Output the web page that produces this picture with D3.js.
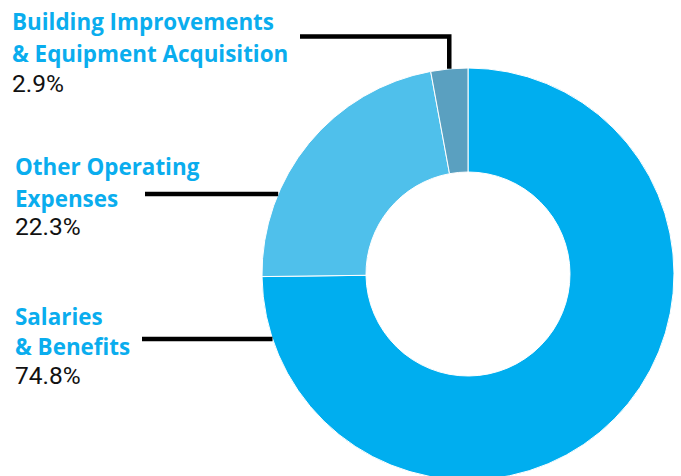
<!DOCTYPE html>
<html>
<head>
<meta charset="utf-8">
<script src="https://cdn.jsdelivr.net/npm/d3@7"></script>
<style>
  body { margin: 0; background: #fff; }
  .label { font-family: "Open Sans", sans-serif; font-weight: 700; fill: #0aadee; }
  .pct { font-family: Roboto, sans-serif; font-weight: 400; fill: #111; }
</style>
</head>
<body>
<svg id="chart" width="681" height="476"></svg>
<script>
// expense shares, clockwise from 12 o'clock
const categories = ['Salaries & Benefits', 'Other Operating Expenses', 'Building Improvements & Equipment Acquisition'];
const values = [74.8, 22.3, 2.9];
const labelLines = [
  ['Salaries', '& Benefits'],
  ['Other Operating', 'Expenses'],
  ['Building Improvements', '& Equipment Acquisition'],
];
const pctLabels = ['74.8%', '22.3%', '2.9%'];
const colors = ['#00aeef', '#4fc0eb', '#5aa0c0'];

const svg = d3.select('#chart');
const cx = 468, cy = 274;
const outerR = 206, innerR = 102;

const pie = d3.pie().sort(null).value((d) => d)(values);
const arc = d3.arc().innerRadius(innerR).outerRadius(outerR);
const color = d3.scaleOrdinal().domain(categories).range(colors);

const g = svg.append('g').attr('transform', `translate(${cx}, ${cy})`);
g.selectAll('path')
  .data(pie)
  .join('path')
    .attr('d', arc)
    .attr('fill', (d, i) => color(categories[i]))
    .attr('stroke', '#fff')
    .attr('stroke-width', 1);

// label blocks: left x and baselines (title lines, then percent)
const labelPos = [
  { x: 15, y: [325, 355], py: 384, lineY: 339, lineX0: 142 },
  { x: 15, y: [175, 207], py: 235, lineY: 194, lineX0: 145 },
  { x: 12, y: [30, 62], py: 92, lineY: 36.5, lineX0: 300 },
];

labelPos.forEach((p, i) => {
  const t = svg.append('g');
  labelLines[i].forEach((line, j) => {
    t.append('text').attr('class', 'label')
      .attr('x', p.x).attr('y', p.y[j])
      .style('font-size', '22.4px')
      .text(line);
  });
  t.append('text').attr('class', 'pct')
    .attr('x', p.x).attr('y', p.py)
    .style('font-size', '24.5px')
    .text(pctLabels[i]);

  let pts;
  if (i === 2) {
    // elbow down to the middle of the small slice
    const a = (pie[i].startAngle + pie[i].endAngle) / 2;
    const ex = cx + outerR * Math.sin(a);
    const ey = cy - outerR * Math.cos(a);
    pts = [[p.lineX0, p.lineY], [ex, p.lineY], [ex, ey]];
  } else {
    const dy = p.lineY - cy;
    const ex = cx - Math.sqrt(outerR * outerR - dy * dy);
    pts = [[p.lineX0, p.lineY], [ex, p.lineY]];
  }
  svg.append('path')
    .attr('d', d3.line()(pts))
    .attr('fill', 'none')
    .attr('stroke', '#000')
    .attr('stroke-width', 4.5);
});
</script>
</body>
</html>
